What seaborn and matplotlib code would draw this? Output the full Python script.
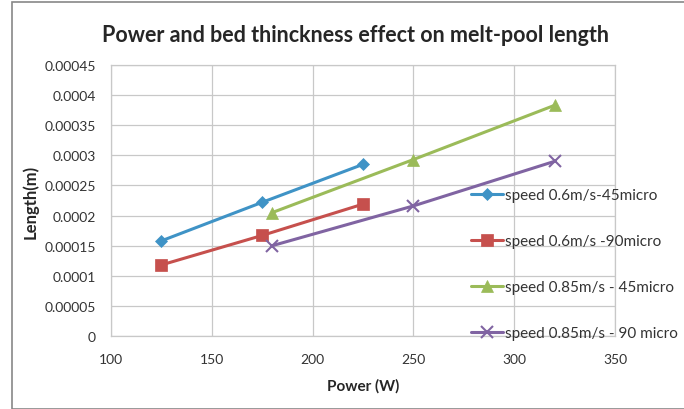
import matplotlib
matplotlib.use("Agg")
import matplotlib.pyplot as plt
import seaborn as sns
import pandas as pd

# data
labels = ["speed 0.6m/s-45micro", "speed 0.6m/s -90micro",
          "speed 0.85m/s - 45micro", "speed 0.85m/s - 90 micro"]
power_06 = [125, 175, 225]
power_085 = [180, 250, 320]
len_06_45 = [0.000158, 0.000222, 0.000285]
len_06_90 = [0.000118, 0.000167, 0.000219]
len_085_45 = [0.000205, 0.000293, 0.000383]
len_085_90 = [0.000150, 0.000216, 0.000290]

colors = ["#3F93C6", "#C6504D", "#9BBB59", "#8064A2"]
markers = ["D", "s", "^", "x"]
msizes = [6.5, 8, 8, 8]

sns.set_style("white")
plt.rcParams["font.family"] = ["Lato", "DejaVu Sans"]

fig = plt.figure(figsize=(6.84, 4.10), dpi=100)
ax = fig.add_axes([111 / 684, 1 - 337 / 410, (615 - 111) / 684, (337 - 66) / 410])

series = [(power_06, len_06_45), (power_06, len_06_90),
          (power_085, len_085_45), (power_085, len_085_90)]
for (xs, ys), lab, c, m, ms in zip(series, labels, colors, markers, msizes):
    df = pd.DataFrame({"x": xs, "y": ys})
    sns.lineplot(data=df, x="x", y="y", ax=ax, color=c, marker=m, markersize=ms,
                 markeredgecolor=c, markeredgewidth=1.5 if m == "x" else 0.5,
                 linewidth=2.2, label=lab)

ax.set_xlim(100, 350)
ax.set_ylim(0, 0.00045)
ax.set_xticks([100, 150, 200, 250, 300, 350])
yt = [0, 0.00005, 0.0001, 0.00015, 0.0002, 0.00025, 0.0003, 0.00035, 0.0004, 0.00045]
ax.set_yticks(yt)
ax.set_yticklabels(["0", "0.00005", "0.0001", "0.00015", "0.0002", "0.00025",
                    "0.0003", "0.00035", "0.0004", "0.00045"])
ax.grid(True, color="#C8C8C8", linewidth=0.9)
for s in ax.spines.values():
    s.set_color("#C8C8C8")
    s.set_linewidth(0.9)
ax.tick_params(axis="both", labelsize=10, colors="#333333", length=0)
ax.tick_params(axis="y", pad=11)
ax.tick_params(axis="x", pad=12)
ax.set_xlabel("Power (W)", fontsize=11, fontweight="bold", labelpad=10)
ax.set_ylabel("Length(m)", fontsize=12, fontweight="bold", labelpad=4)
fig.text(355 / 684, 1 - 35 / 410, "Power and bed thinckness effect on melt-pool length",
         ha="center", va="center", fontsize=15.5, fontweight="bold")

leg = ax.legend(loc="upper left", bbox_to_anchor=(465 / 684, 1 - 183 / 410),
                bbox_transform=fig.transFigure, frameon=False, fontsize=11,
                labelspacing=2.1, handlelength=2.1, handletextpad=0.1,
                borderaxespad=0)
for t in leg.get_texts():
    t.set_color("#333333")

# outer chart border
fig.add_artist(plt.Rectangle((12 / 684, 0.0), 1.2, 1 - 3 / 410,
                             transform=fig.transFigure, fill=False,
                             edgecolor="#888888", linewidth=1.2))

fig.savefig("out.png", dpi=100)
